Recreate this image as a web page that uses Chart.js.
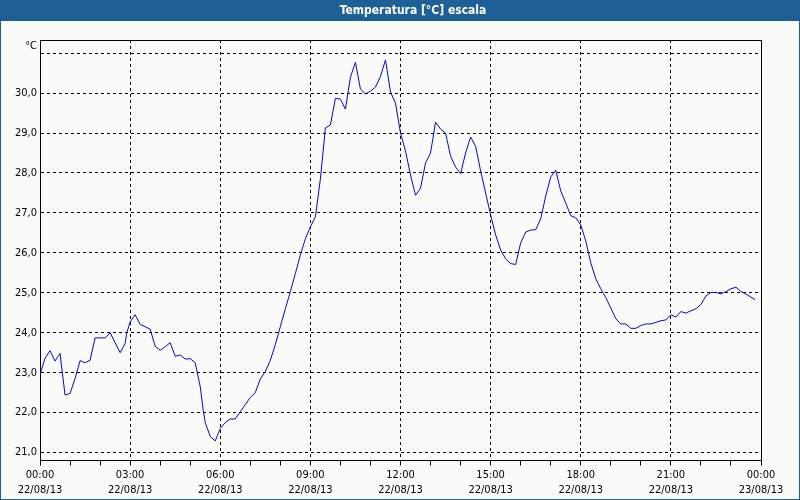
<!DOCTYPE html>
<html>
<head>
<meta charset="utf-8">
<script src="https://cdn.jsdelivr.net/npm/chart.js@4/dist/chart.umd.min.js"></script>
<style>
html,body{margin:0;padding:0;background:#fafcfa;}
#wrap{width:800px;height:500px;position:relative;}
canvas{display:block;}
</style>
</head>
<body>
<div id="wrap"><canvas id="c" width="800" height="500"></canvas></div>
<script>
const chartTitle = 'Temperatura [°C] escala';
const unitLabel = '°C';
const tickTimes = ['00:00','03:00','06:00','09:00','12:00','15:00','18:00','21:00','00:00'];
const tickDates = ['22/08/13','22/08/13','22/08/13','22/08/13','22/08/13','22/08/13','22/08/13','22/08/13','23/08/13'];
const yTickValues = [21,22,23,24,25,26,27,28,29,30];

const times = [
'00:00','00:10','00:20','00:30','00:40','00:50','01:00','01:10','01:20','01:30','01:40','01:50',
'02:00','02:10','02:20','02:30','02:40','02:50','02:53','03:00','03:10','03:20','03:30','03:40','03:50',
'04:00','04:10','04:20','04:30','04:40','04:50','05:00','05:10','05:20','05:26','05:30','05:40','05:50',
'06:00','06:10','06:20','06:30','06:40','06:50','07:00','07:10','07:20','07:30','07:40','07:50',
'08:00','08:10','08:20','08:30','08:40','08:50','09:00','09:10','09:20','09:30','09:40','09:50',
'10:00','10:10','10:20','10:30','10:40','10:50','11:00','11:10','11:20','11:30','11:40','11:50',
'12:00','12:10','12:20','12:30','12:40','12:50','13:00','13:10','13:20','13:30','13:40','13:50',
'14:00','14:10','14:20','14:30','14:40','14:50','15:00','15:10','15:20','15:30','15:40','15:50',
'16:00','16:10','16:20','16:30','16:40','16:50','17:00','17:10','17:20','17:30','17:40','17:50',
'18:00','18:10','18:20','18:30','18:40','18:50','19:00','19:10','19:20','19:30','19:40','19:50',
'20:00','20:10','20:20','20:30','20:40','20:50','21:00','21:10','21:20','21:30','21:40','21:50',
'22:00','22:10','22:20','22:30','22:40','22:50','23:00','23:10','23:20','23:30','23:40','23:48'
];
const temps = [
22.95,23.36,23.55,23.29,23.48,22.44,22.48,22.85,23.30,23.25,23.31,23.87,
23.87,23.87,24.00,23.75,23.50,23.73,23.98,24.27,24.45,24.21,24.15,24.09,23.66,
23.56,23.65,23.75,23.41,23.44,23.34,23.35,23.25,22.65,22.06,21.75,21.40,21.29,
21.60,21.75,21.84,21.84,22.02,22.20,22.38,22.50,22.84,23.03,23.31,23.70,
24.15,24.60,25.03,25.48,25.95,26.35,26.65,26.90,27.85,29.13,29.20,29.87,
29.85,29.60,30.40,30.77,30.10,29.98,30.05,30.15,30.42,30.83,30.03,29.75,
29.00,28.55,27.95,27.44,27.62,28.25,28.50,29.27,29.10,29.00,28.42,28.15,
27.98,28.50,28.90,28.67,28.05,27.50,26.95,26.45,26.07,25.85,25.73,25.71,
26.25,26.52,26.57,26.58,26.85,27.42,27.90,28.07,27.55,27.25,26.93,26.88,
26.70,26.30,25.75,25.35,25.10,24.88,24.62,24.35,24.22,24.22,24.11,24.11,
24.18,24.22,24.22,24.26,24.30,24.32,24.45,24.39,24.53,24.49,24.55,24.60,
24.71,24.92,25.01,25.01,24.97,25.03,25.10,25.14,25.03,24.97,24.89,24.83
];

function toHours(t){const p=t.split(':');return +p[0]+(+p[1])/60;}
const points = times.map((t,i)=>({x:toHours(t), y:temps[i]}));

const FONT = '"DejaVu Sans Condensed","DejaVu Sans",sans-serif';
const BLUE = '#1d6098';

const framePlugin = {
  id:'frame',
  beforeDraw(chart){
    const ctx = chart.ctx;
    ctx.save();
    ctx.fillStyle = '#fafcfa';
    ctx.fillRect(0,0,chart.width,chart.height);
    ctx.fillStyle = BLUE;
    ctx.fillRect(0,0,chart.width,21);
    ctx.fillStyle = '#ffffff';
    ctx.font = 'bold 12px ' + FONT;
    ctx.textAlign = 'center';
    ctx.textBaseline = 'middle';
    ctx.fillText(chartTitle, 413, 11);
    ctx.restore();
  },
  afterDraw(chart){
    const ctx = chart.ctx, a = chart.chartArea;
    ctx.save();
    ctx.strokeStyle = '#000';
    ctx.lineWidth = 1;
    ctx.beginPath();
    ctx.moveTo(Math.round(a.left)+0.5, Math.round(a.top)+0.5);
    ctx.lineTo(Math.round(a.right)+0.5, Math.round(a.top)+0.5);
    ctx.lineTo(Math.round(a.right)+0.5, Math.round(a.bottom)+0.5);
    ctx.stroke();
    ctx.fillStyle = '#000';
    ctx.font = '11px ' + FONT;
    ctx.textAlign = 'right';
    ctx.textBaseline = 'middle';
    ctx.fillText(unitLabel, 37, 46);
    ctx.strokeStyle = BLUE;
    ctx.lineWidth = 1;
    ctx.strokeRect(0.5,0.5,chart.width-1,chart.height-1);
    ctx.restore();
  }
};

new Chart(document.getElementById('c'), {
  type:'line',
  data:{datasets:[{data:points, borderColor:'#0000ff', borderWidth:1, pointRadius:0, tension:0, fill:false}]},
  options:{
    responsive:false, animation:false, devicePixelRatio:1,
    layout:{padding:{top:40,right:39,left:0,bottom:0}},
    plugins:{legend:{display:false}, tooltip:{enabled:false}, title:{display:false}},
    scales:{
      x:{
        type:'linear', min:0, max:24,
        afterFit(s){ s.height = 39.5; },
        ticks:{stepSize:1, autoSkip:false, maxRotation:0, minRotation:0, padding:2, color:'#000',
          font:{family:FONT, size:11, lineHeight:1.364},
          callback(v){ if (v % 3 !== 0) return ''; const i = v/3; return [tickTimes[i], tickDates[i]]; }
        },
        grid:{color:(c)=> (c.tick && c.tick.value % 3 === 0) ? '#000' : 'rgba(0,0,0,0)', tickColor:'#000', tickLength:5, lineWidth:1, drawTicks:true},
        border:{display:true, color:'#000', width:1, dash:[3,3]}
      },
      y:{
        min:20.8, max:31.33,
        afterFit(s){ s.width = 40; },
        afterBuildTicks(s){ s.ticks = yTickValues.concat([31]).map(v=>({value:v})); },
        ticks:{includeBounds:false, stepSize:1, padding:3, color:'#000',
          font:{family:FONT, size:11},
          callback(v){ return yTickValues.includes(v) ? v.toFixed(1).replace('.',',') : ''; }
        },
        grid:{color:'#000', lineWidth:1, drawTicks:false},
        border:{display:true, color:'#000', width:1, dash:[3,3]}
      }
    }
  },
  plugins:[framePlugin]
});
</script>
</body>
</html>
